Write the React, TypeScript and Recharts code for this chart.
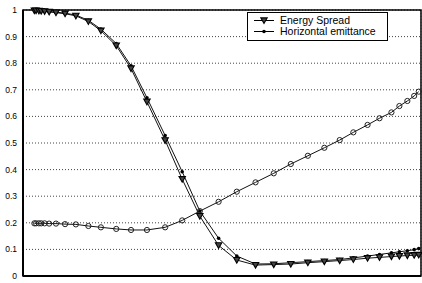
import {
  LineChart, Line, XAxis, YAxis, CartesianGrid, Legend, ReferenceArea,
} from 'recharts'

// sample positions along x (axis runs 0..7, no labels shown)
const xs = [
  0.2, 0.23, 0.28, 0.32, 0.38, 0.46, 0.58, 0.74, 0.93, 1.15, 1.37, 1.64, 1.9, 2.18, 2.5, 2.8, 3.11,
  3.44, 3.76, 4.09, 4.41, 4.71, 5.01, 5.3, 5.57, 5.81, 6.06, 6.27, 6.48, 6.62, 6.76, 6.88, 6.96,
]

const energySpread = [
  0.998, 0.998, 0.997, 0.996, 0.995, 0.993, 0.99, 0.986, 0.978, 0.957, 0.922, 0.866, 0.78, 0.655, 0.51, 0.364, 0.225,
  0.115, 0.06, 0.041, 0.043, 0.045, 0.05, 0.054, 0.058, 0.062, 0.067, 0.07, 0.073, 0.075, 0.077, 0.078, 0.079,
]

const horizEmittance = [
  0.999, 0.999, 0.998, 0.997, 0.996, 0.994, 0.992, 0.988, 0.981, 0.961, 0.928, 0.874, 0.79, 0.67, 0.528, 0.392, 0.244,
  0.142, 0.075, 0.045, 0.046, 0.05, 0.054, 0.058, 0.062, 0.068, 0.075, 0.081, 0.087, 0.091, 0.095, 0.099, 0.103,
]

// third curve (open circles), not in the legend
const circleSeries = [
  0.198, 0.198, 0.198, 0.198, 0.198, 0.197, 0.197, 0.195, 0.194, 0.188, 0.183, 0.177, 0.173, 0.173, 0.183, 0.209, 0.244,
  0.279, 0.317, 0.352, 0.386, 0.421, 0.452, 0.482, 0.511, 0.54, 0.568, 0.593, 0.615, 0.639, 0.658, 0.677, 0.693,
]

const xTicks = [0, 1, 2, 3, 4, 5, 6, 7]
const yTicks = [0, 0.1, 0.2, 0.3, 0.4, 0.5, 0.6, 0.7, 0.8, 0.9, 1]

const data = xs.map((x, i) => ({
  x,
  energy: energySpread[i],
  emit: horizEmittance[i],
  circ: circleSeries[i],
}))

const FONT = '"Liberation Sans", Arial, sans-serif'

function fmtY(v: number): string {
  if (v === 0) return '0'
  if (v === 1) return '1'
  return v.toFixed(1)
}

function TriDot(props: any) {
  const { cx, cy, index } = props
  if (cx == null || cy == null) return null
  return (
    <path
      key={`tri-${index}`}
      d={`M${cx - 3.2},${cy - 2.6} L${cx + 3.2},${cy - 2.6} L${cx},${cy + 3} Z`}
      fill="#444"
      stroke="#000"
      strokeWidth={1.1}
    />
  )
}

function PointDot(props: any) {
  const { cx, cy, index } = props
  if (cx == null || cy == null) return null
  return <circle key={`pt-${index}`} cx={cx} cy={cy} r={1.8} fill="#000" />
}

function CircleDot(props: any) {
  const { cx, cy, index } = props
  if (cx == null || cy == null) return null
  return <circle key={`c-${index}`} cx={cx} cy={cy} r={2.6} fill="none" stroke="#222" strokeWidth={1} />
}

function LegendBox() {
  return (
    <div
      style={{
        width: 139,
        height: 27,
        border: '1px solid #000',
        background: '#fff',
        fontFamily: FONT,
        fontSize: 10.5,
        color: '#000',
        position: 'relative',
      }}
    >
      <svg width={30} height={27} style={{ position: 'absolute', left: 0, top: 0 }}>
        <line x1={6} y1={7.5} x2={26} y2={7.5} stroke="#000" strokeWidth={1} />
        <path d="M12.8,4.9 L19.2,4.9 L16,10.5 Z" fill="#444" stroke="#000" strokeWidth={1.1} />
        <line x1={6} y1={18.5} x2={26} y2={18.5} stroke="#000" strokeWidth={1} />
        <circle cx={16} cy={18.5} r={1.8} fill="#000" />
      </svg>
      <div style={{ position: 'absolute', left: 32, top: 1, lineHeight: '12px', whiteSpace: 'nowrap' }}>
        Energy Spread
      </div>
      <div style={{ position: 'absolute', left: 32, top: 12, lineHeight: '12px', whiteSpace: 'nowrap' }}>
        Horizontal emittance
      </div>
    </div>
  )
}

export default function App() {
  return (
    <div style={{ position: 'absolute', left: 0, top: 0, width: 422, height: 283, background: '#fff' }}>
      <LineChart width={422} height={283} data={data} margin={{ top: 10, right: 1, bottom: 0, left: 0 }}>
        <CartesianGrid horizontal={false} stroke="#999" strokeDasharray="1 2" />
        <CartesianGrid vertical={false} stroke="#444" strokeDasharray="1 2" />
        <XAxis
          dataKey="x"
          type="number"
          domain={[0, 7]}
          ticks={xTicks}
          tick={false}
          tickLine={false}
          height={7}
          axisLine={{ stroke: '#000', strokeWidth: 2 }}
        />
        <YAxis
          type="number"
          domain={[0, 1]}
          ticks={yTicks}
          tickFormatter={fmtY}
          tick={{ fontFamily: FONT, fontSize: 8.5, fill: '#000' }}
          tickLine={false}
          tickSize={4}
          tickMargin={2}
          width={23}
          axisLine={{ stroke: '#000', strokeWidth: 2 }}
        />
        <ReferenceArea x1={0} x2={7} y1={0} y2={1} fill="none" stroke="#000" strokeWidth={1.5} ifOverflow="visible" />
        <Legend
          layout="vertical"
          align="center"
          verticalAlign="middle"
          wrapperStyle={{ left: 247, top: 12, width: 141 }}
          content={() => <LegendBox />}
        />
        <Line
          type="linear"
          dataKey="circ"
          stroke="#111"
          strokeWidth={1}
          dot={CircleDot}
          activeDot={false}
          legendType="none"
          isAnimationActive={false}
        />
        <Line
          type="linear"
          dataKey="emit"
          stroke="#111"
          strokeWidth={1}
          dot={PointDot}
          activeDot={false}
          isAnimationActive={false}
        />
        <Line
          type="linear"
          dataKey="energy"
          stroke="#111"
          strokeWidth={1}
          dot={TriDot}
          activeDot={false}
          isAnimationActive={false}
        />
      </LineChart>
    </div>
  )
}
